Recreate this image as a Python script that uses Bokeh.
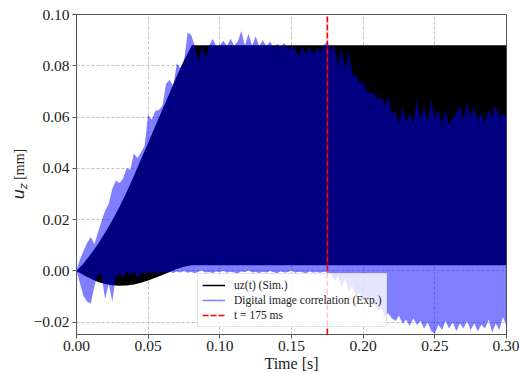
import numpy as np
from bokeh.plotting import figure
from bokeh.layouts import row
from bokeh.models import Range1d, FixedTicker, Legend, LegendItem, Div
from bokeh.embed import file_html
from bokeh.resources import INLINE

# ---------------- data ----------------
# simulation u_z(t): envelope of the fast oscillation
t_sim = [0.000, 0.005, 0.010, 0.015, 0.020, 0.025, 0.030, 0.035, 0.040, 0.045,
         0.050, 0.055, 0.060, 0.065, 0.070, 0.075, 0.0805, 0.100, 0.150, 0.200,
         0.250, 0.300]
sim_upper = [0.0000, 0.0030, 0.0066, 0.0105, 0.0150, 0.0198, 0.0250, 0.0308, 0.0370, 0.0435,
             0.0500, 0.0565, 0.0630, 0.0695, 0.0760, 0.0822, 0.0880, 0.0880, 0.0880, 0.0880,
             0.0880, 0.0880]
sim_lower = [0.0000, -0.0017, -0.0031, -0.0043, -0.0051, -0.0056, -0.0058, -0.0057, -0.0053, -0.0046,
             -0.0037, -0.0027, -0.0016, -0.0004, 0.0007, 0.0016, 0.0022, 0.0022, 0.0022, 0.0022,
             0.0022, 0.0022]

# experiment (digital image correlation): envelope, sampled every 2.5 ms
t_exp = np.round(np.arange(0, 0.30001, 0.0025), 4)
exp_upper = [
    0.0005, 0.0045, 0.0080, 0.0110, 0.0132, 0.0105, 0.0150, 0.0195, 0.0236, 0.0262,
    0.0320, 0.0353, 0.0342, 0.0360, 0.0400, 0.0395, 0.0458, 0.0440, 0.0462, 0.0488,
    0.0610, 0.0590, 0.0625, 0.0628, 0.0645, 0.0731, 0.0745, 0.0720, 0.0810, 0.0790,
    0.0816, 0.0930, 0.0920, 0.0878, 0.0815, 0.0880, 0.0830, 0.0878, 0.0905, 0.0876,
    0.0880, 0.0898, 0.0877, 0.0905, 0.0878, 0.0895, 0.0936, 0.0878, 0.0925, 0.0877,
    0.0915, 0.0877, 0.0900, 0.0876, 0.0895, 0.0870, 0.0886, 0.0872, 0.0890, 0.0860,
    0.0882, 0.0865, 0.0835, 0.0878, 0.0845, 0.0874, 0.0840, 0.0872, 0.0850, 0.0880,
    0.0895, 0.0860, 0.0878, 0.0800, 0.0872, 0.0780, 0.0862, 0.0760, 0.0770, 0.0730,
    0.0740, 0.0700, 0.0690, 0.0697, 0.0665, 0.0680, 0.0640, 0.0680, 0.0610, 0.0627,
    0.0575, 0.0640, 0.0580, 0.0615, 0.0575, 0.0666, 0.0590, 0.0640, 0.0580, 0.0666,
    0.0595, 0.0630, 0.0565, 0.0627, 0.0570, 0.0600, 0.0610, 0.0646, 0.0585, 0.0660,
    0.0600, 0.0640, 0.0590, 0.0615, 0.0575, 0.0630, 0.0600, 0.0646, 0.0600, 0.0615,
    0.0600]
exp_lower = [
    0.0000, -0.0050, -0.0100, -0.0120, -0.0127, -0.0060, -0.0010, -0.0020, -0.0110, -0.0050,
    -0.0120, -0.0020, -0.0010, -0.0030, 0.0000, -0.0020, 0.0000, -0.0030, -0.0005, -0.0015,
    -0.0002, -0.0008, -0.0003, -0.0010, -0.0003, -0.0008, -0.0003, -0.0008, -0.0002, -0.0006,
    0.0000, -0.0007, -0.0004, -0.0009, -0.0003, 0.0002, -0.0006, -0.0004, -0.0008, -0.0002,
    -0.0005, 0.0001, -0.0007, -0.0003, -0.0006, -0.0009, -0.0002, -0.0005, 0.0003, -0.0006,
    -0.0004, -0.0008, -0.0003, -0.0006, 0.0000, -0.0005, -0.0008, -0.0002, -0.0006, -0.0004,
    0.0002, -0.0007, -0.0003, -0.0005, -0.0009, -0.0002, -0.0006, -0.0004, -0.0007, -0.0003,
    -0.0005, -0.0010, -0.0040, -0.0020, -0.0065, -0.0030, -0.0080, -0.0060, -0.0100, -0.0085,
    -0.0115, -0.0105, -0.0130, -0.0125, -0.0155, -0.0145, -0.0175, -0.0165, -0.0185, -0.0195,
    -0.0175, -0.0205, -0.0190, -0.0215, -0.0185, -0.0210, -0.0195, -0.0225, -0.0200, -0.0235,
    -0.0245, -0.0210, -0.0230, -0.0195, -0.0225, -0.0200, -0.0235, -0.0205, -0.0225, -0.0195,
    -0.0230, -0.0205, -0.0235, -0.0210, -0.0225, -0.0190, -0.0240, -0.0205, -0.0230, -0.0180,
    -0.0215]

t_event = 0.175

x_ticks = [0.00, 0.05, 0.10, 0.15, 0.20, 0.25, 0.30]
x_tick_labels = ["0.00", "0.05", "0.10", "0.15", "0.20", "0.25", "0.30"]
y_ticks = [-0.02, 0.00, 0.02, 0.04, 0.06, 0.08, 0.10]
y_tick_labels = ["\u22120.02", "0.00", "0.02", "0.04", "0.06", "0.08", "0.10"]

x_min, x_max = 0.0, 0.30
y_min, y_max = -0.0248, 0.10

x_title = "Time [s]"
labels = ["uz(t) (Sim.)", "Digital image correlation (Exp.)", "t = 175 ms"]

# ---------------- figure ----------------
SERIF = "Liberation Serif"
TOTAL_W, TOTAL_H = 519, 374
LABEL_W = 30

p = figure(width=TOTAL_W - LABEL_W, height=TOTAL_H, output_backend="svg", toolbar_location=None,
           x_range=Range1d(x_min, x_max), y_range=Range1d(y_min, y_max),
           min_border_left=74 - LABEL_W, min_border_right=13, min_border_top=14,
           min_border_bottom=39)
p.background_fill_color = "white"
p.border_fill_color = "white"
p.outline_line_color = "#555555"
p.outline_line_width = 1

p.xaxis.ticker = FixedTicker(ticks=x_ticks)
p.yaxis.ticker = FixedTicker(ticks=y_ticks)
p.xaxis.major_label_overrides = dict(zip(x_ticks, x_tick_labels))
p.yaxis.major_label_overrides = dict(zip(y_ticks, y_tick_labels))
for ax in (p.xaxis[0], p.yaxis[0]):
    ax.axis_line_color = None
    ax.major_tick_line_color = "#555555"
    ax.major_tick_out = 4
    ax.major_tick_in = 0
    ax.minor_tick_line_color = None
    ax.major_label_text_font = SERIF
    ax.major_label_text_font_size = "15.5px"
    ax.major_label_text_color = "#222222"
    ax.major_label_standoff = 3
p.xaxis.major_label_standoff = 2
p.xaxis.axis_label = x_title
p.xaxis.axis_label_text_font = SERIF
p.xaxis.axis_label_text_font_size = "16px"
p.xaxis.axis_label_text_font_style = "normal"
p.xaxis.axis_label_text_color = "#222222"
p.xaxis.axis_label_standoff = 1

p.grid.grid_line_color = "#b0b0b0"
p.grid.grid_line_dash = "3 2"
p.grid.grid_line_width = 0.8

# simulation envelope (black) and experiment envelope (semi-transparent blue)
p.varea(x=t_sim, y1=sim_lower, y2=sim_upper, fill_color="black")
r_sim = p.line(x=t_sim, y=sim_upper, line_color="black", line_width=1.5, visible=False)
p.varea(x=t_exp, y1=exp_lower, y2=exp_upper, fill_color="blue", fill_alpha=0.5)
r_exp = p.line(x=t_exp, y=exp_upper, line_color="blue", line_alpha=0.5, line_width=1.5, visible=False)
r_evt = p.line(x=[t_event, t_event], y=[y_min, y_max], line_color="red", line_width=1.7,
               line_dash="6 2")

legend = Legend(items=[LegendItem(label=labels[0], renderers=[r_sim]),
                       LegendItem(label=labels[1], renderers=[r_exp]),
                       LegendItem(label=labels[2], renderers=[r_evt])],
                location=(121, 7))
legend.label_text_font = SERIF
legend.label_text_font_size = "11.5px"
legend.label_text_color = "#222222"
legend.label_height = 14
legend.glyph_height = 14
legend.glyph_width = 23
legend.label_standoff = 9
legend.spacing = 1
legend.padding = 4
legend.margin = 0
legend.border_line_color = "#cccccc"
legend.border_line_width = 1
legend.background_fill_color = "white"
legend.background_fill_alpha = 0.8
p.add_layout(legend)

# y-axis title with italic u and subscript z, as real (HTML) text
y_title_html = (
    '<div style="position:relative; width:%dpx; height:%dpx;">'
    '<div style="position:absolute; left:20px; top:174px; '
    'transform: translate(-50%%, -50%%) rotate(-90deg); white-space:nowrap; '
    'font-family:\'Liberation Serif\'; font-size:14px; color:#222222; line-height:16px;">'
    '<span style="font-family:\'DejaVu Sans\'; font-style:italic; font-size:16px;">u</span>'
    '<span style="font-family:\'DejaVu Sans\'; font-style:italic; font-size:11px; '
    'position:relative; top:3px;">z</span> [mm]</div></div>' % (LABEL_W, TOTAL_H)
)
y_title = Div(text=y_title_html, width=LABEL_W, height=TOTAL_H, margin=0)

layout = row(y_title, p, spacing=0)

open("out.html", "w").write(file_html(layout, INLINE))
